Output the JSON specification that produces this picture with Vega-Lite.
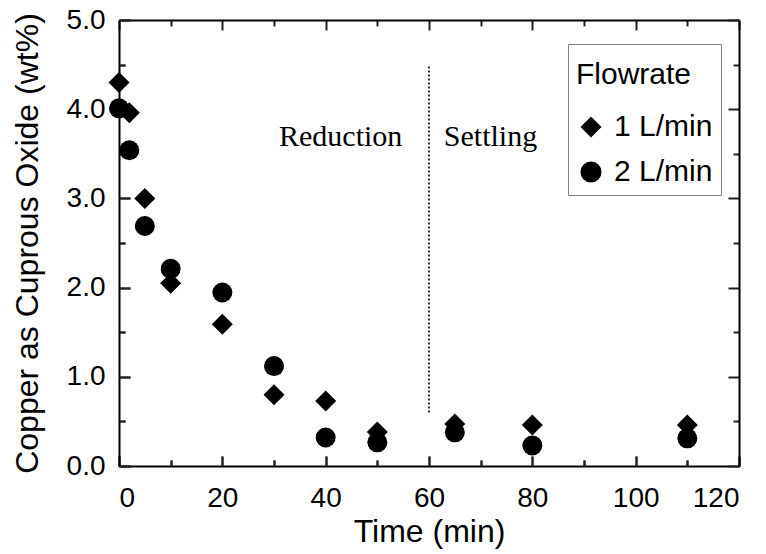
{
  "$schema": "https://vega.github.io/schema/vega-lite/v6.json",
  "width": 620,
  "height": 446,
  "autosize": "none",
  "padding": {"left": 119, "top": 20, "right": 27, "bottom": 88},
  "background": "white",
  "config": {
    "view": {"stroke": null},
    "font": "Liberation Sans",
    "axis": {
      "grid": false,
      "domainColor": "#000000",
      "domainWidth": 2,
      "labelColor": "#000000",
      "titleColor": "#000000",
      "labelFont": "Liberation Sans",
      "titleFont": "Liberation Sans",
      "titleFontWeight": "normal",
      "labelFontSize": 28,
      "titleFontSize": 32,
      "zindex": 1
    },
    "legend": {
      "orient": "none",
      "legendX": 449,
      "legendY": 24,
      "strokeColor": "#808080",
      "fillColor": "white",
      "padding": 8,
      "titleFont": "Liberation Sans",
      "titleFontWeight": "normal",
      "titleFontSize": 30,
      "titleColor": "black",
      "titleBaseline": "line-top",
      "titleLineHeight": 46,
      "titlePadding": 30,
      "labelFont": "Liberation Sans",
      "labelFontSize": 30,
      "labelColor": "black",
      "labelOffset": 8,
      "symbolSize": 441,
      "symbolFillColor": "black",
      "symbolStrokeWidth": 0,
      "rowPadding": 15
    }
  },
  "datasets": {
    "copper": [
      {"time": 0, "cu2o": 4.30, "flow": "1 L/min"},
      {"time": 2, "cu2o": 3.96, "flow": "1 L/min"},
      {"time": 5, "cu2o": 3.00, "flow": "1 L/min"},
      {"time": 10, "cu2o": 2.05, "flow": "1 L/min"},
      {"time": 20, "cu2o": 1.59, "flow": "1 L/min"},
      {"time": 30, "cu2o": 0.80, "flow": "1 L/min"},
      {"time": 40, "cu2o": 0.73, "flow": "1 L/min"},
      {"time": 50, "cu2o": 0.38, "flow": "1 L/min"},
      {"time": 65, "cu2o": 0.47, "flow": "1 L/min"},
      {"time": 80, "cu2o": 0.46, "flow": "1 L/min"},
      {"time": 110, "cu2o": 0.46, "flow": "1 L/min"},
      {"time": 0, "cu2o": 4.01, "flow": "2 L/min"},
      {"time": 2, "cu2o": 3.54, "flow": "2 L/min"},
      {"time": 5, "cu2o": 2.69, "flow": "2 L/min"},
      {"time": 10, "cu2o": 2.21, "flow": "2 L/min"},
      {"time": 20, "cu2o": 1.945, "flow": "2 L/min"},
      {"time": 30, "cu2o": 1.12, "flow": "2 L/min"},
      {"time": 40, "cu2o": 0.32, "flow": "2 L/min"},
      {"time": 50, "cu2o": 0.265, "flow": "2 L/min"},
      {"time": 65, "cu2o": 0.377, "flow": "2 L/min"},
      {"time": 80, "cu2o": 0.23, "flow": "2 L/min"},
      {"time": 110, "cu2o": 0.31, "flow": "2 L/min"}
    ],
    "divider": [{"time": 60, "low": 0.6, "high": 4.48}],
    "phases": [
      {"time": 42.9, "cu2o": 3.59, "label": "Reduction"},
      {"time": 71.9, "cu2o": 3.59, "label": "Settling"}
    ]
  },
  "layer": [
    {
      "data": {"name": "divider"},
      "mark": {"type": "rule", "color": "#333333", "strokeWidth": 2, "strokeDash": [2, 2]},
      "encoding": {
        "x": {"field": "time", "type": "quantitative", "scale": {"domain": [0, 120], "nice": false},
          "axis": {"orient": "top", "offset": -446, "domain": false, "labels": false, "title": null, "ticks": true,
            "tickColor": "#222222", "tickWidth": 2,
            "values": [0, 10, 20, 30, 40, 50, 60, 70, 80, 90, 100, 110, 120],
            "tickSize": {"condition": {"test": "datum.value % 20 === 0", "value": 10}, "value": 6}}},
        "y": {"field": "low", "type": "quantitative", "scale": {"domain": [0, 5], "nice": false},
          "axis": {"orient": "right", "offset": -620, "domain": false, "labels": false, "title": null, "ticks": true,
            "tickColor": "#222222", "tickWidth": 2,
            "values": [0, 0.5, 1, 1.5, 2, 2.5, 3, 3.5, 4, 4.5, 5],
            "tickSize": {"condition": {"test": "datum.value % 1 === 0", "value": 11}, "value": 6}}},
        "y2": {"field": "high"}
      }
    },
    {
      "data": {"name": "copper"},
      "transform": [{"filter": "datum.flow === '1 L/min'"}],
      "mark": {"type": "point", "filled": true, "color": "black", "opacity": 1, "size": 441, "strokeWidth": 0},
      "encoding": {
        "x": {"field": "time", "type": "quantitative", "scale": {"domain": [0, 120], "nice": false},
          "axis": {"orient": "bottom", "values": [0, 20, 40, 60, 80, 100, 120], "ticks": false, "labelPadding": 18, "title": "Time (min)", "titlePadding": 4}},
        "y": {"field": "cu2o", "type": "quantitative", "scale": {"domain": [0, 5], "nice": false},
          "axis": {"orient": "left", "values": [0, 1, 2, 3, 4, 5], "format": ".1f", "ticks": false, "labelPadding": 14, "title": "Copper as Cuprous Oxide (wt%)", "titlePadding": 22}},
        "shape": {"field": "flow", "type": "nominal", "title": "Flowrate",
          "scale": {"domain": ["1 L/min", "2 L/min"], "range": ["diamond", "circle"]}}
      }
    },
    {
      "data": {"name": "copper"},
      "transform": [{"filter": "datum.flow === '2 L/min'"}],
      "mark": {"type": "point", "filled": true, "color": "black", "opacity": 1, "size": 400, "strokeWidth": 0},
      "encoding": {
        "x": {"field": "time", "type": "quantitative", "scale": {"domain": [0, 120], "nice": false},
          "axis": {"orient": "bottom", "offset": -446, "labelExpr": "''", "title": null, "ticks": true,
            "tickColor": "#222222", "tickWidth": 2,
            "values": [0, 10, 20, 30, 40, 50, 60, 70, 80, 90, 100, 110, 120],
            "tickSize": {"condition": {"test": "datum.value % 20 === 0", "value": 10}, "value": 6}}},
        "y": {"field": "cu2o", "type": "quantitative", "scale": {"domain": [0, 5], "nice": false},
          "axis": {"orient": "left", "offset": -620, "labels": false, "title": null, "ticks": true,
            "tickColor": "#222222", "tickWidth": 2,
            "values": [0, 0.5, 1, 1.5, 2, 2.5, 3, 3.5, 4, 4.5, 5],
            "tickSize": {"condition": {"test": "datum.value % 1 === 0", "value": 11}, "value": 6}}},
        "shape": {"field": "flow", "type": "nominal", "title": "Flowrate",
          "scale": {"domain": ["1 L/min", "2 L/min"], "range": ["diamond", "circle"]}}
      }
    },
    {
      "data": {"name": "phases"},
      "mark": {"type": "text", "font": "Liberation Serif", "fontSize": 30, "color": "black", "align": "center", "baseline": "alphabetic"},
      "encoding": {
        "x": {"field": "time", "type": "quantitative", "scale": {"domain": [0, 120], "nice": false},
          "axis": {"orient": "top", "offset": -446, "domain": false, "labels": false, "title": null, "ticks": true,
            "tickColor": "#222222", "tickWidth": 2,
            "values": [0, 10, 20, 30, 40, 50, 60, 70, 80, 90, 100, 110, 120],
            "tickSize": {"condition": {"test": "datum.value % 20 === 0", "value": 10}, "value": 6}}},
        "y": {"field": "cu2o", "type": "quantitative", "scale": {"domain": [0, 5], "nice": false},
          "axis": {"orient": "right", "offset": -620, "domain": false, "labels": false, "title": null, "ticks": true,
            "tickColor": "#222222", "tickWidth": 2,
            "values": [0, 0.5, 1, 1.5, 2, 2.5, 3, 3.5, 4, 4.5, 5],
            "tickSize": {"condition": {"test": "datum.value % 1 === 0", "value": 11}, "value": 6}}},
        "text": {"field": "label"}
      }
    }
  ],
  "resolve": {"axis": {"x": "independent", "y": "independent"}}
}
